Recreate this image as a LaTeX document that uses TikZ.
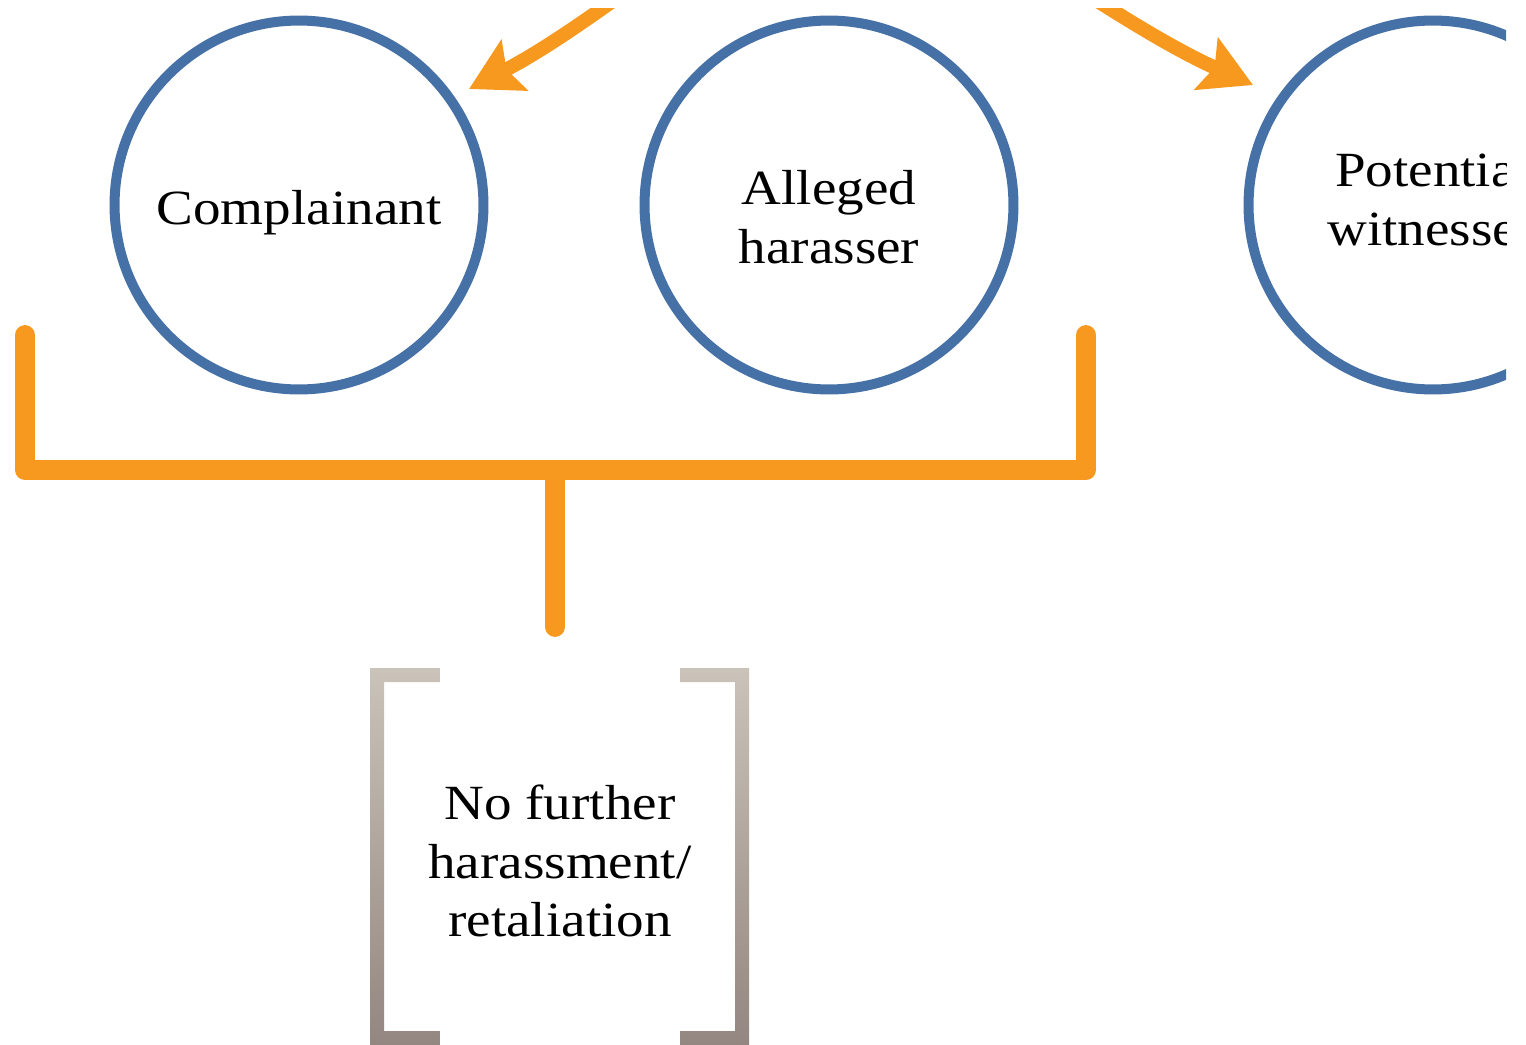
\documentclass[tikz,border=0pt]{standalone}
\usepackage{fontspec}
\setmainfont{Liberation Serif}[FakeStretch=1.12]
\usetikzlibrary{arrows.meta}

\definecolor{ringblue}{RGB}{70,113,166}
\definecolor{linkorange}{RGB}{247,153,30}
\definecolor{brackettop}{RGB}{202,195,185}
\definecolor{bracketbot}{RGB}{148,134,128}

\tikzset{
  ring/.style={circle, draw=ringblue, line width=5.7pt, minimum size=7.38cm,
    inner sep=0pt},
  label text/.style={align=center, font=\fontsize{28}{33.5}\selectfont},
  flow/.style={draw=linkorange, line width=8pt,
    -{Stealth[length=29pt,width=32pt,inset=5pt]}},
  join line/.style={draw=linkorange, line width=11.3pt, line cap=round, line join=round},
  gray bracket/.style={top color=brackettop, bottom color=bracketbot, draw=none}
}

\begin{document}
\begin{tikzpicture}[x=0.02cm, y=-0.02cm]
\useasboundingbox (0,0) rectangle (1526,1045);

\begin{scope}
\clip (0,8) rectangle (1506,1045);

% the three parties
\node[ring] (comp) at (299,205) {};
\node[ring] (harr) at (829,205) {};
\node[ring] (witn) at (1433,205) {};
\node[label text] (compt) at (299,213) {Complainant};
\node[label text] (harrt) at (829,217) {Alleged\\harasser};
\node[label text] (witnt) at (1433,199) {Potential\\witnesses};

% incoming arrows from above
\coordinate (srcL) at (614,0);
\coordinate (tipL) at (469,89);
\coordinate (srcR) at (1096,0);
\coordinate (tipR) at (1253,85);
\draw[flow] (srcL) to[bend left=4] (tipL);
\draw[flow] (srcR) to[bend right=4] (tipR);

% bracket joining complainant and alleged harasser
\coordinate (jl) at (25,335);
\coordinate (jr) at (1086,335);
\coordinate (jm) at (555,470);
\coordinate (jend) at (555,627);
\draw[join line] (jl) |- (jm) -| (jr);
\draw[join line] (jm) -- (jend);

% outcome in square brackets
\shade[gray bracket] (370,668) -- (440,668) -- (440,682) -- (384,682) -- (384,1031)
  -- (440,1031) -- (440,1045) -- (370,1045) -- cycle;
\shade[gray bracket] (749,668) -- (680,668) -- (680,682) -- (735,682) -- (735,1031)
  -- (680,1031) -- (680,1045) -- (749,1045) -- cycle;
\node[label text] (goal) at (560,861) {No further\\harassment/\\retaliation};
\end{scope}
\end{tikzpicture}
\end{document}
